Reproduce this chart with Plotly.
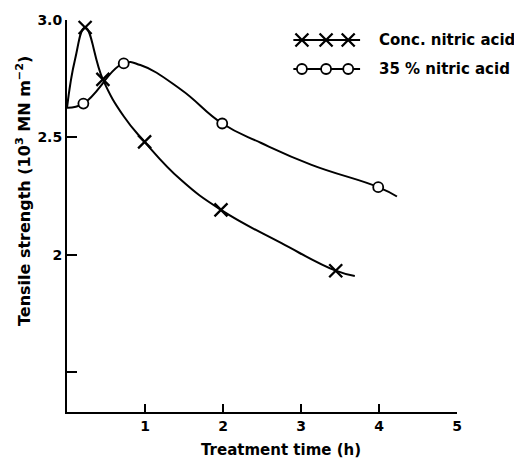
import plotly.graph_objects as go

# ---- Data ----
# Conc. nitric acid: measured points (x markers) and drawn curve
conc_time = [0.232, 0.46, 0.995, 1.974, 3.445]
conc_strength = [2.968, 2.747, 2.481, 2.191, 1.932]
conc_curve_time = [0.0, 0.103, 0.232, 0.46, 0.727, 0.995, 1.46, 1.974, 2.75, 3.445, 3.69]
conc_curve_strength = [2.626, 2.832, 2.968, 2.747, 2.59, 2.481, 2.319, 2.191, 2.049, 1.932, 1.909]

# 35 % nitric acid: measured points (open circles) and drawn curve
dil_time = [0.21, 0.727, 1.99, 3.99]
dil_strength = [2.644, 2.815, 2.559, 2.288]
dil_curve_time = [0.0, 0.21, 0.727, 0.94, 1.46, 1.99, 2.49, 3.135, 3.99, 4.23]
dil_curve_strength = [2.626, 2.644, 2.815, 2.808, 2.704, 2.559, 2.476, 2.383, 2.288, 2.248]

series_names = ["Conc. nitric acid", "35 % nitric acid"]
x_ticks = [1, 2, 3, 4, 5]
y_ticks = [1.5, 2.0, 2.5, 3.0]
y_tick_labels = ["", "2", "2.5", "3.0"]

# legend key sample layout (in key-axis units)
key_line_x = [0.0, 1.0]
key_marker_x = [0.13, 0.49, 0.82]
key_rows = [0.745, 0.375]

FONT = "DejaVu Sans"
INK = "black"
X_MARK = dict(symbol="x-thin", size=13, color=INK, line=dict(color=INK, width=2.3))
O_MARK = dict(symbol="circle", size=10, color="white", line=dict(color=INK, width=1.8))
LINE = dict(color=INK, width=2, shape="spline", smoothing=1.3)

fig = go.Figure()
fig.add_trace(go.Scatter(x=conc_curve_time, y=conc_curve_strength, mode="lines",
                         line=LINE, showlegend=False, hoverinfo="skip"))
fig.add_trace(go.Scatter(x=dil_curve_time, y=dil_curve_strength, mode="lines",
                         line=LINE, showlegend=False, hoverinfo="skip"))
fig.add_trace(go.Scatter(x=conc_time, y=conc_strength, mode="markers",
                         name=series_names[0], marker=X_MARK, showlegend=False))
fig.add_trace(go.Scatter(x=dil_time, y=dil_strength, mode="markers",
                         name=series_names[1], marker=O_MARK, showlegend=False))

# legend key (drawn on an overlay axis pair)
for row, mk in zip(key_rows, [X_MARK, O_MARK]):
    fig.add_trace(go.Scatter(x=key_line_x, y=[row] * len(key_line_x), mode="lines",
                             line=dict(color=INK, width=2), xaxis="x2", yaxis="y2",
                             showlegend=False, hoverinfo="skip"))
    fig.add_trace(go.Scatter(x=key_marker_x, y=[row] * len(key_marker_x), mode="markers",
                             marker=mk, xaxis="x2", yaxis="y2",
                             showlegend=False, hoverinfo="skip"))

bold = dict(family=FONT, weight="bold", color=INK)

annotations = [
    dict(text="Tensile strength (10<sup>3</sup> MN m<sup>−2</sup>)",
         xref="paper", yref="paper", x=-0.110, y=0.564,
         xanchor="center", yanchor="middle", textangle=-90,
         showarrow=False, font=dict(size=16, **bold)),
    dict(text="Treatment time (h)", xref="paper", yref="paper", x=0.549, y=-0.097,
         xanchor="center", yanchor="middle", showarrow=False,
         font=dict(size=15, **bold)),
]
for name, yp in zip(series_names, [0.949, 0.875]):
    annotations.append(dict(text=name, xref="paper", yref="paper", x=0.7955, y=yp,
                            xanchor="left", yanchor="middle", showarrow=False,
                            font=dict(size=15, **bold)))

fig.update_layout(
    width=514, height=460,
    margin=dict(l=67, r=57, t=20, b=48),
    paper_bgcolor="white", plot_bgcolor="white",
    font=dict(size=14, **bold),
    showlegend=False,
    xaxis=dict(range=[0, 5], tickvals=x_ticks, ticks="inside", ticklen=8,
               tickwidth=2, tickcolor=INK, showline=True, linecolor=INK,
               linewidth=2, showgrid=False, zeroline=False,
               tickfont=dict(size=14, **bold)),
    yaxis=dict(range=[1.33, 3.0], tickvals=y_ticks, ticktext=y_tick_labels,
               ticks="inside", ticklen=10, tickwidth=2, tickcolor=INK,
               showline=True, linecolor=INK, linewidth=2, showgrid=False,
               zeroline=False, tickfont=dict(size=14, **bold)),
    xaxis2=dict(domain=[0.58, 0.752], range=[0, 1], visible=False, anchor="y2"),
    yaxis2=dict(domain=[0.8, 1.0], range=[0, 1], visible=False, anchor="x2"),
    annotations=annotations,
)

fig.write_html("out.html")
